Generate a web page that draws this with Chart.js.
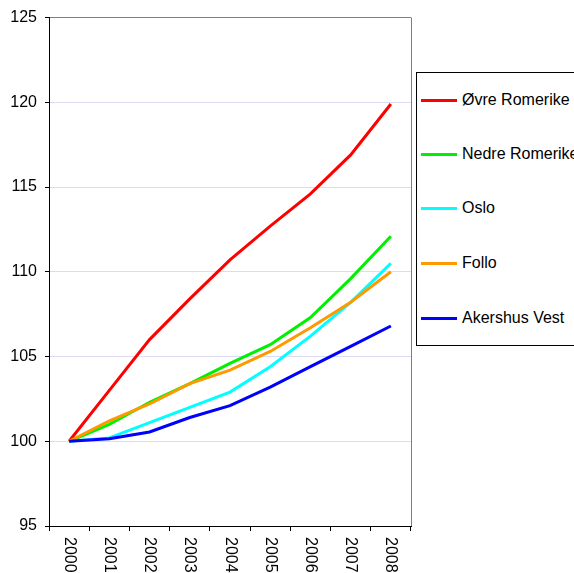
<!DOCTYPE html>
<html>
<head>
<meta charset="utf-8">
<script src="https://cdn.jsdelivr.net/npm/chart.js@4/dist/chart.umd.min.js"></script>
<style>
  html, body { margin: 0; padding: 0; background: #ffffff; overflow: hidden; }
  #wrap { position: relative; width: 574px; height: 573px; }
  #legend { position: absolute; left: 416px; top: 72px; width: 220px; height: 274px; border: 1px solid #000; background: #fff; box-sizing: border-box; }
  .item { position: absolute; left: 4px; height: 20px; display: flex; align-items: center; font-family: 'Liberation Sans', Arial, sans-serif; font-size: 16px; color: #000; white-space: nowrap; }
  .swatch { width: 36px; height: 3px; margin-right: 5px; }
</style>
</head>
<body>
<div id="wrap">
  <canvas id="c" width="574" height="573"></canvas>
  <div id="legend"></div>
</div>
<script>
const years = ['2000', '2001', '2002', '2003', '2004', '2005', '2006', '2007', '2008'];
const seriesNames = ['Øvre Romerike', 'Nedre Romerike', 'Oslo', 'Follo', 'Akershus Vest'];
const ovreRomerike = [100, 103.0, 106.0, 108.4, 110.7, 112.7, 114.6, 116.9, 119.9];
const nedreRomerike = [100, 101.0, 102.3, 103.4, 104.6, 105.7, 107.3, 109.6, 112.1];
const oslo = [100, 100.2, 101.1, 102.0, 102.9, 104.4, 106.2, 108.2, 110.5];
const follo = [100, 101.2, 102.2, 103.4, 104.2, 105.3, 106.7, 108.2, 110.0];
const akershusVest = [100, 100.15, 100.55, 101.4, 102.1, 103.2, 104.4, 105.6, 106.8];
const yTicks = [95, 100, 105, 110, 115, 120, 125];

const seriesValues = [ovreRomerike, nedreRomerike, oslo, follo, akershusVest];
const colors = ['#ff0000', '#00f000', '#00ffff', '#ff9900', '#0000ff'];
const FONT = "'Liberation Sans', Arial, sans-serif";

const datasets = seriesNames.map((name, i) => ({
  label: name,
  data: seriesValues[i],
  borderColor: colors[i],
  backgroundColor: colors[i],
  borderWidth: 3,
  pointRadius: 0,
  tension: 0,
  fill: false,
  order: seriesNames.length - i
}));

const customPlugin = {
  id: 'custom',
  beforeDatasetsDraw(chart) {
    const { ctx, chartArea } = chart;
    ctx.save();
    ctx.strokeStyle = '#808080';
    ctx.lineWidth = 1;
    ctx.beginPath();
    ctx.moveTo(chartArea.right + 0.5, chartArea.top);
    ctx.lineTo(chartArea.right + 0.5, chartArea.bottom);
    ctx.stroke();
    ctx.restore();
  },
  afterDraw(chart) {
    const { ctx } = chart;
    const xs = chart.scales.x;
    ctx.save();
    ctx.fillStyle = '#000';
    ctx.font = '16px ' + FONT;
    ctx.textAlign = 'left';
    ctx.textBaseline = 'middle';
    years.forEach((lab, i) => {
      const px = xs.getPixelForValue(i);
      ctx.save();
      ctx.translate(px, 537);
      ctx.rotate(Math.PI / 2);
      ctx.fillText(lab, 0, 0);
      ctx.restore();
    });
    ctx.restore();
  }
};

new Chart(document.getElementById('c'), {
  type: 'line',
  data: { labels: years, datasets },
  options: {
    responsive: false,
    animation: false,
    devicePixelRatio: 1,
    layout: { padding: { top: 17, right: 163, bottom: 0, left: 0 } },
    plugins: { legend: { display: false }, tooltip: { enabled: false } },
    scales: {
      x: {
        offset: true,
        grid: { offset: true, drawOnChartArea: false, drawTicks: true, tickLength: 5, tickColor: '#000' },
        border: { color: '#000', width: 1 },
        ticks: { display: false },
        afterFit(scale) { scale.height = 47; }
      },
      y: {
        min: 95,
        max: 125,
        afterBuildTicks(scale) { scale.ticks = yTicks.map(v => ({ value: v })); },
        grid: {
          color: (c) => (c.tick && c.tick.value === 125) ? '#808080' : '#dcdcf5',
          tickColor: '#000',
          tickLength: 4,
          drawTicks: true
        },
        border: { color: '#000', width: 1 },
        ticks: { color: '#000', font: { family: FONT, size: 16 }, padding: 8 },
        afterFit(scale) { scale.width = 49; }
      }
    }
  },
  plugins: [customPlugin]
});

const legend = document.getElementById('legend');
const centers = [27, 81, 135, 190, 245];
seriesNames.forEach((name, i) => {
  const it = document.createElement('div');
  it.className = 'item';
  it.style.top = (centers[i] - 10) + 'px';
  const sw = document.createElement('span');
  sw.className = 'swatch';
  sw.style.background = colors[i];
  const tx = document.createElement('span');
  tx.textContent = name;
  it.appendChild(sw);
  it.appendChild(tx);
  legend.appendChild(it);
});
</script>
</body>
</html>
